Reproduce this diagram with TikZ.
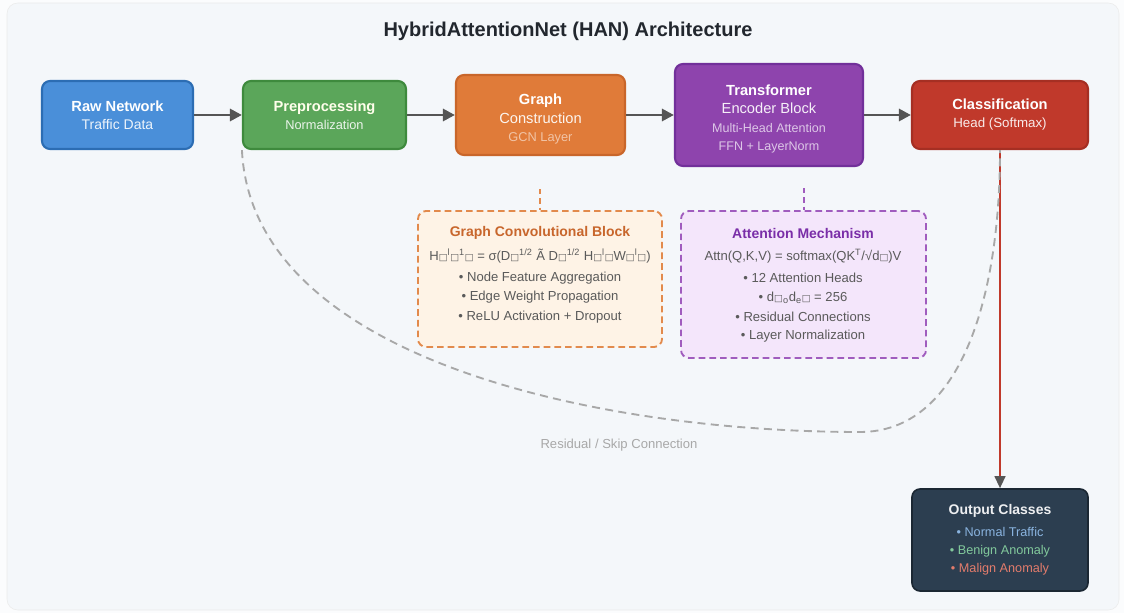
\documentclass[tikz,border=0pt]{standalone}
\usepackage{fontspec}
\setmainfont{Liberation Sans}
\newfontfamily\dejavu{DejaVu Sans}
\usetikzlibrary{arrows.meta,calc}
\definecolor{bgpanel}{HTML}{F4F7FA}
\definecolor{bgouter}{HTML}{FBFCFD}
\definecolor{titlec}{HTML}{22272E}
\definecolor{bluef}{HTML}{4A8FD9}\definecolor{blued}{HTML}{2C6DB3}
\definecolor{greenf}{HTML}{5BA65A}\definecolor{greend}{HTML}{3E8A3D}
\definecolor{orangef}{HTML}{E07B39}\definecolor{oranged}{HTML}{C9662A}
\definecolor{purplef}{HTML}{8E44AD}\definecolor{purpled}{HTML}{72309A}
\definecolor{redf}{HTML}{C0392B}\definecolor{redd}{HTML}{A52F23}
\definecolor{navyf}{HTML}{2C3E50}\definecolor{navyd}{HTML}{1B2733}
\definecolor{arrowc}{HTML}{555555}
\definecolor{gcbfill}{HTML}{FEF3E6}\definecolor{gcbline}{HTML}{E28A4C}
\definecolor{attfill}{HTML}{F4E6FB}\definecolor{attline}{HTML}{A05CBE}
\definecolor{gcbtitle}{HTML}{C8662C}\definecolor{atttitle}{HTML}{7A2EA8}
\definecolor{bodyc}{HTML}{5A5A5A}
\definecolor{skipc}{HTML}{A8A8A8}
\definecolor{outblue}{HTML}{8AB4E0}\definecolor{outgreen}{HTML}{82C99C}\definecolor{outred}{HTML}{E37C6C}
\newcommand{\tf}{{\dejavu\scriptsize □}}
\newcommand{\topstrut}{\rule{0pt}{14pt}}
\tikzset{
  px/.style={x=0.75pt,y=-0.75pt},
  mainbox/.style={draw,line width=1.6pt,rounded corners=6pt,align=center,inner sep=0pt,text=white,font=\fontsize{11}{13.6}\selectfont},
  infobox/.style={draw,dashed,line width=1.4pt,dash pattern=on 5pt off 3pt,rounded corners=6pt,inner sep=0pt},
  body/.style={font=\fontsize{9.8}{12}\selectfont,text=bodyc},
  infotitle/.style={font=\bfseries\fontsize{10.5}{12}\selectfont},
  flow/.style={draw=arrowc,line width=2.2pt,-{Triangle[length=9pt,width=9pt]}},
  tick/.style={line width=1.5pt,dash pattern=on 4pt off 3pt},
}
\begin{document}
\begin{tikzpicture}[px]
\useasboundingbox (0,0) rectangle (1124,613);
\fill[bgouter] (0,0) rectangle (1124,613);
\fill[bgpanel,draw=white!92!black,line width=0.4pt,rounded corners=8pt] (7,3) rectangle (1119,610);

\node[font=\bfseries\fontsize{15}{18}\selectfont,text=titlec] (title) at (568,31) {HybridAttentionNet (HAN) Architecture};

\node[mainbox,fill=bluef,draw=blued,minimum width=151*0.75pt,minimum height=68*0.75pt] (raw) at (117.5,115)
  {{\bfseries Raw Network}\\{\fontsize{10.5}{13.6}\selectfont\color{white!90!bluef}Traffic Data}};
\node[mainbox,fill=greenf,draw=greend,minimum width=163*0.75pt,minimum height=68*0.75pt] (pre) at (324.5,115)
  {{\bfseries\color{white!92!yellow}Preprocessing}\\{\fontsize{9.6}{13.6}\selectfont\color{white!88!greenf}Normalization}};
\node[mainbox,fill=orangef,draw=oranged,minimum width=169*0.75pt,minimum height=80*0.75pt] (graph) at (540.5,115)
  {\topstrut{\bfseries Graph}\\{\color{white!92!orangef}Construction}\\{\fontsize{9.6}{13.6}\selectfont\color{white!55!orangef}GCN Layer}};
\node[mainbox,fill=purplef,draw=purpled,minimum width=188*0.75pt,minimum height=102*0.75pt] (trans) at (769,115)
  {\topstrut{\bfseries Transformer}\\{\color{white!92!purplef}Encoder Block}\\{\fontsize{9.4}{13.6}\selectfont\color{white!70!purplef}Multi-Head Attention}\\{\fontsize{9.4}{13.6}\selectfont\color{white!70!purplef}FFN + LayerNorm}};
\node[mainbox,fill=redf,draw=redd,minimum width=176*0.75pt,minimum height=68*0.75pt] (cls) at (1000,115)
  {{\bfseries Classification}\\{\fontsize{10}{13.6}\selectfont\color{white!90!redf}Head (Softmax)}};

\node[infobox,fill=gcbfill,draw=gcbline,minimum width=244*0.75pt,minimum height=136*0.75pt] (gcb) at (540,279) {};
\node[infobox,fill=attfill,draw=attline,minimum width=245*0.75pt,minimum height=147*0.75pt] (att) at (803.5,284.5) {};

\node[infotitle,text=gcbtitle] (gcbt) at (540,233) {Graph Convolutional Block};
\node[body] (gcbf) at (540,256) {H\tf\textsuperscript{l}\tf\textsuperscript{1}\tf{} = σ(D\tf\textsuperscript{1/2} Ã D\tf\textsuperscript{1/2} H\tf\textsuperscript{l}\tf W\tf\textsuperscript{l}\tf)};
\node[body] (gb1) at (540,278) {• Node Feature Aggregation};
\node[body] (gb2) at (540,297.5) {• Edge Weight Propagation};
\node[body] (gb3) at (540,317) {• ReLU Activation + Dropout};

\node[infotitle,text=atttitle] (attt) at (803,233) {Attention Mechanism};
\node[body] (attf) at (803,256) {Attn(Q,K,V) = softmax(QK\textsuperscript{T}/√d\tf)V};
\node[body] (ab1) at (803,278) {• 12 Attention Heads};
\node[body] (ab2) at (803,297.5) {• d\tf\textsubscript{o}d\textsubscript{e}\tf{} = 256};
\node[body] (ab3) at (803,317) {• Residual Connections};
\node[body] (ab4) at (803,336) {• Layer Normalization};

\node[mainbox,fill=navyf,draw=navyd,minimum width=176*0.75pt,minimum height=102*0.75pt,line width=1.2pt] (out) at (1000,540) {};
\node[font=\bfseries\fontsize{10.5}{12}\selectfont,text=white!92!navyf] (outt) at (1000,511) {Output Classes};
\node[font=\fontsize{9.5}{12}\selectfont,text=outblue] (o1) at (1000,532) {• Normal Traffic};
\node[font=\fontsize{9.5}{12}\selectfont,text=outgreen] (o2) at (1000,551) {• Benign Anomaly};
\node[font=\fontsize{9.5}{12}\selectfont,text=outred] (o3) at (1000,569) {• Malign Anomaly};

\draw[flow] (raw) -- (pre);
\draw[flow] (pre) -- (graph);
\draw[flow] (graph) -- (trans);
\draw[flow] (trans) -- (cls);
\draw[draw=redf,line width=1.6pt,-{Triangle[length=9pt,width=8pt,fill=arrowc,color=arrowc]}] (cls.south) -- (out.north);

\coordinate (gtop) at ($(gcb.north)+(0,-21)$);
\coordinate (atop) at ($(att.north)+(0,-22)$);
\draw[tick,draw=gcbline] (gtop) -- (gcb.north);
\draw[tick,draw=attline] (atop) -- (att.north);

\coordinate (skipmid) at (860,432);
\draw[skipc,line width=1.4pt,dash pattern=on 6pt off 4pt] (pre.south west) .. controls (252,360) and (600,432) .. (skipmid) .. controls (960,432) and (1000,300) .. (cls.south);
\node[font=\fontsize{9.8}{12}\selectfont,text=skipc] (skipl) at (619,445) {Residual / Skip Connection};
\end{tikzpicture}
\end{document}
